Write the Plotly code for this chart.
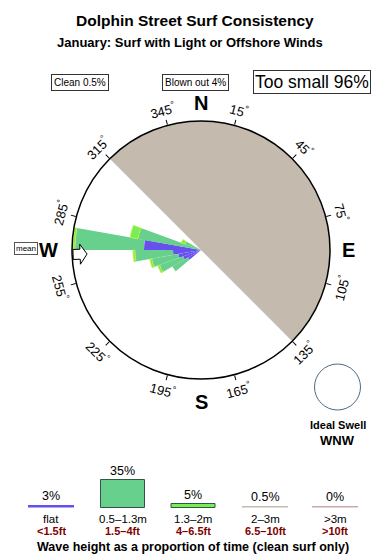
import math
import plotly.graph_objects as go

# ---------------- data ----------------
title = "Dolphin Street Surf Consistency"
subtitle = "January: Surf with Light or Offshore Winds"
summary_labels = ["Clean 0.5%", "Blown out 4%", "Too small 96%"]

# swell direction bins (centre bearing, deg) and stacked radial lengths per wave class
bin_dirs = [235, 245, 255, 265, 275, 285, 295]
bin_width = 10
flat_vals = [15, 19, 23, 28, 57, 0, 0]
small_vals = [18, 25, 27, 38, 69, 64, 17]
mid_vals = [0, 2, 2, 2, 2, 8, 4]

offshore_center = 45      # shaded (offshore wind) half
offshore_width = 180
mean_dir = 268
ideal_swell = "WNW"

deg_ticks = [15, 45, 75, 105, 135, 165, 195, 225, 255, 285, 315, 345]
compass = ["N", "E", "S", "W"]
compass_dirs = [0, 90, 180, 270]

legend_pct = [3, 35, 5, 0.5, 0]
legend_pct_txt = ["3%", "35%", "5%", "0.5%", "0%"]
legend_m = ["flat", "0.5–1.3m", "1.3–2m", "2–3m", ">3m"]
legend_ft = ["<1.5ft", "1.5–4ft", "4–6.5ft", "6.5–10ft", ">10ft"]
legend_colors = ["#6650f0", "#66d08c", "#77ee55", "#c4bcae", "#c9a9a9"]
footer = "Wave height as a proportion of time (clean surf only)"

# ---------------- layout helpers ----------------
W, H = 390, 560
CX, CY, R = 201, 250, 129
FONT = "Liberation Sans, Arial, sans-serif"


def px(x):
    return x / W


def py(y):
    return 1 - y / H


fig = go.Figure()

# offshore shaded half disc
fig.add_trace(go.Barpolar(r=[R], theta=[offshore_center], width=[offshore_width],
                          marker=dict(color="#c4baae", line=dict(width=0)),
                          hoverinfo="skip", showlegend=False))
# stacked rose
fig.add_trace(go.Barpolar(r=flat_vals, theta=bin_dirs, width=[bin_width] * len(bin_dirs),
                          marker=dict(color=legend_colors[0], line=dict(width=0)),
                          showlegend=False))
fig.add_trace(go.Barpolar(r=small_vals, theta=bin_dirs, width=[bin_width] * len(bin_dirs),
                          marker=dict(color=legend_colors[1], line=dict(width=0)),
                          showlegend=False))
fig.add_trace(go.Barpolar(r=mid_vals, theta=bin_dirs, width=[bin_width] * len(bin_dirs),
                          marker=dict(color=legend_colors[2], line=dict(color="#ccee44", width=0.8)),
                          showlegend=False))

# mean direction arrow (white with black outline), pointing toward centre
arrow_pts = [(128, -5), (121, -5), (121, -10), (114, 0), (121, 10), (121, 5), (128, 5), (128, -5)]
ar, at = [], []
for along, perp in arrow_pts:
    ar.append(math.hypot(along, perp))
    at.append(mean_dir + math.degrees(math.atan2(perp, along)))
fig.add_trace(go.Scatterpolar(r=ar, theta=at, mode="lines", fill="toself",
                              fillcolor="white", line=dict(color="black", width=1),
                              hoverinfo="skip", showlegend=False))

fig.update_layout(
    width=W, height=H, margin=dict(l=0, r=0, t=0, b=0),
    paper_bgcolor="white", plot_bgcolor="white",
    font=dict(family=FONT, color="black"),
    polar=dict(
        domain=dict(x=[px(CX - R), px(CX + R)], y=[py(CY + R), py(CY - R)]),
        bgcolor="white", barmode="stack",
        radialaxis=dict(range=[0, R], visible=False, showgrid=False),
        angularaxis=dict(rotation=90, direction="clockwise", showgrid=False,
                         showticklabels=False, ticks="outside", ticklen=5,
                         tickcolor="black", tickmode="array", tickvals=deg_ticks,
                         showline=True, linecolor="black", linewidth=1.5),
    ),
)

ann = []
ann.append(dict(x=px(195), y=py(21), text="<b>%s</b>" % title, font=dict(size=15.5)))
ann.append(dict(x=px(190), y=py(43), text="<b>%s</b>" % subtitle, font=dict(size=13)))

# summary boxes
for txt, x, fs in zip(summary_labels, [79.5, 195, 311.5], [10, 10, 17.5]):
    ann.append(dict(x=px(x), y=py(82), text=txt, font=dict(size=fs),
                    bordercolor="#333", borderwidth=1, borderpad=2 if fs < 12 else 1))

# compass letters
for lab, b, rr in zip(compass, compass_dirs, [147, 147, 152, 153]):
    ann.append(dict(x=px(CX + rr * math.sin(math.radians(b))),
                    y=py(CY - rr * math.cos(math.radians(b))),
                    text="<b>%s</b>" % lab, font=dict(size=20)))

# degree labels
for b in deg_ticks:
    rr = 145
    ang = ((b + 90) % 180) - 90
    ann.append(dict(x=px(CX + rr * math.sin(math.radians(b))),
                    y=py(CY - rr * math.cos(math.radians(b))),
                    text="%d<sup>°</sup>" % b, textangle=ang, font=dict(size=13)))

# mean label
ann.append(dict(x=px(26), y=py(248.5), text="mean", font=dict(size=8),
                bordercolor="#555", borderwidth=1, borderpad=1))

# ideal swell
ann.append(dict(x=px(337.5), y=py(424.5), text="<b>Ideal Swell</b>", font=dict(size=11)))
ann.append(dict(x=px(337.5), y=py(440), text="<b>%s</b>" % ideal_swell, font=dict(size=13)))

shapes = [dict(type="circle", xref="paper", yref="paper",
               x0=px(314.5), x1=px(360.5), y0=py(410), y1=py(364),
               line=dict(color="#4a6a8a", width=1))]

# legend
leg_x = [51, 122.5, 193, 265, 335]
base_y = 507.5
for i, (p, c) in enumerate(zip(legend_pct, legend_colors)):
    x = leg_x[i]
    h = max(p * 0.8, 1.6)
    if p >= 4:
        shapes.append(dict(type="rect", xref="paper", yref="paper",
                           x0=px(x - 22), x1=px(x + 22), y0=py(base_y), y1=py(base_y - h),
                           fillcolor=c, line=dict(color="#335544", width=1)))
    else:
        shapes.append(dict(type="rect", xref="paper", yref="paper",
                           x0=px(x - 23), x1=px(x + 23), y0=py(base_y), y1=py(base_y - h),
                           fillcolor=c, line=dict(width=0)))
    top = base_y - h
    ann.append(dict(x=px(x), y=py(top - 9), text=legend_pct_txt[i], font=dict(size=12.5)))
    ann.append(dict(x=px(x), y=py(519), text=legend_m[i], font=dict(size=11.5)))
    ann.append(dict(x=px(x), y=py(530.5), text="<b>%s</b>" % legend_ft[i],
                    font=dict(size=11, color="#800000")))

ann.append(dict(x=px(193), y=py(547), text="<b>%s</b>" % footer, font=dict(size=12.5)))

for a in ann:
    a.setdefault("xref", "paper")
    a.setdefault("yref", "paper")
    a.setdefault("showarrow", False)
    a.setdefault("xanchor", "center")
    a.setdefault("yanchor", "middle")

fig.update_layout(annotations=ann, shapes=shapes)
fig.write_html("out.html")
